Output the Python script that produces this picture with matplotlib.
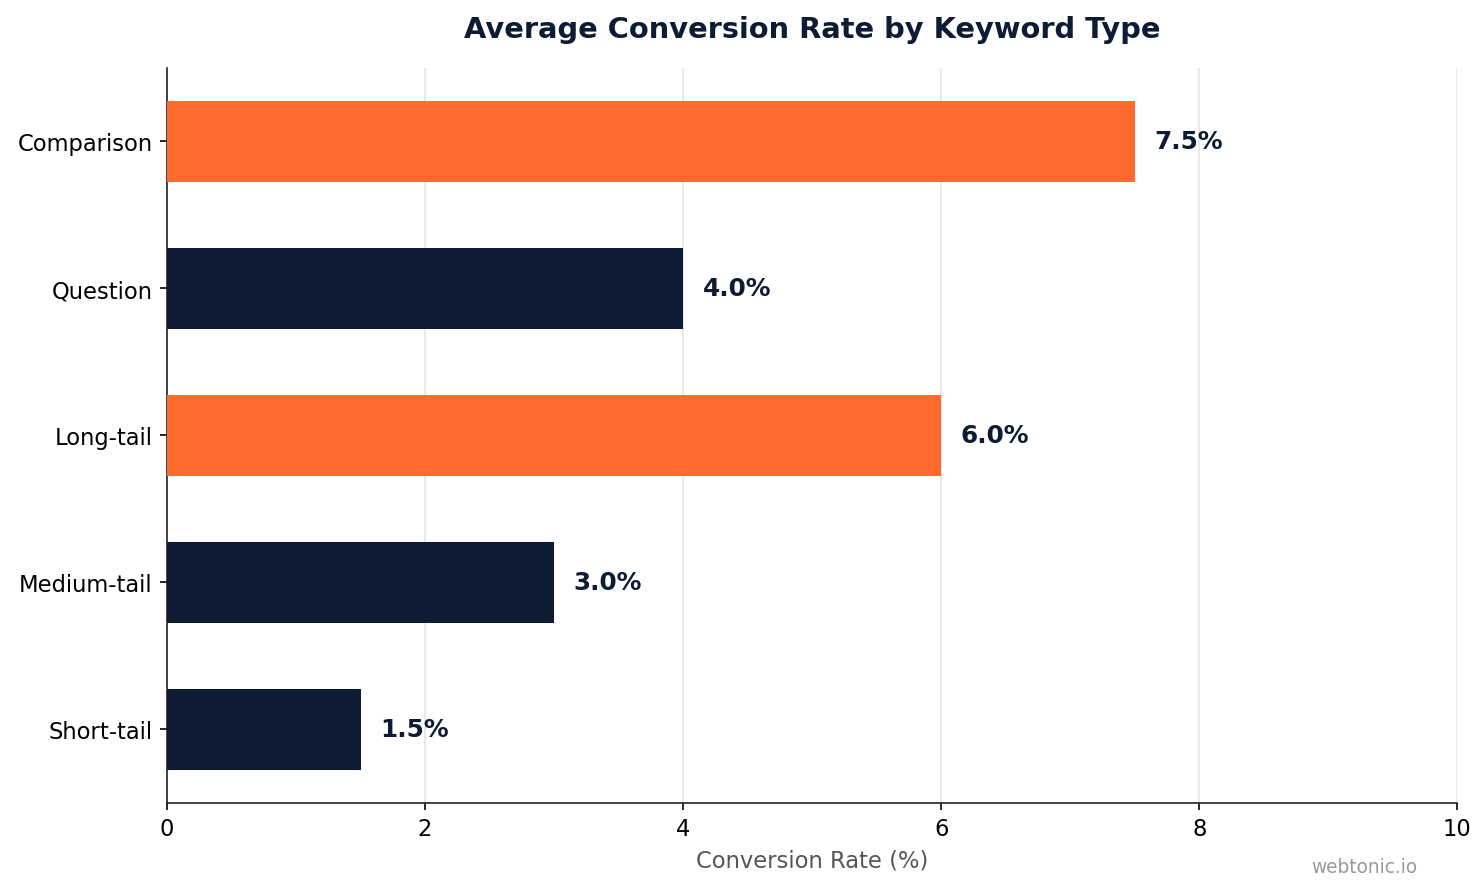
import matplotlib
matplotlib.use("Agg")
import matplotlib.pyplot as plt

# data
keyword_types = ["Short-tail", "Medium-tail", "Long-tail", "Question", "Comparison"]
conversion_rates = [1.5, 3.0, 6.0, 4.0, 7.5]
highlight = [False, False, True, False, True]

NAVY = "#0D1B33"
ORANGE = "#FF6B2F"

fig = plt.figure(figsize=(10, 6.0175), dpi=148.4)
ax = fig.add_axes([0.1125, 0.1, 0.8695, 0.823])

colors = [ORANGE if h else NAVY for h in highlight]
bars = ax.barh(keyword_types, conversion_rates, height=0.55, color=colors, zorder=3)

for bar, val in zip(bars, conversion_rates):
    ax.text(bar.get_width() + 0.15, bar.get_y() + bar.get_height() / 2, f"{val:.1f}%",
            va="center", ha="left", fontsize=12, fontweight="bold", color=NAVY)

ax.set_xlim(0, 10)
ax.set_ylim(-0.5, 4.5)
ax.set_xticks([0, 2, 4, 6, 8, 10])
ax.tick_params(axis="both", labelsize=11)
ax.grid(axis="x", color="#E5E5E5", linewidth=0.8, zorder=0)
ax.set_axisbelow(True)
for side in ["top", "right"]:
    ax.spines[side].set_visible(False)
ax.spines["left"].set_color("#222222")
ax.spines["bottom"].set_color("#222222")

ax.set_xlabel("Conversion Rate (%)", fontsize=11, color="#555555")
ax.set_title("Average Conversion Rate by Keyword Type", fontsize=14, fontweight="bold",
             color=NAVY, pad=15)

fig.text(0.955, 0.029, "webtonic.io", ha="right", va="center", fontsize=9, color="#999999")

fig.savefig("out.png", dpi=148.4)
